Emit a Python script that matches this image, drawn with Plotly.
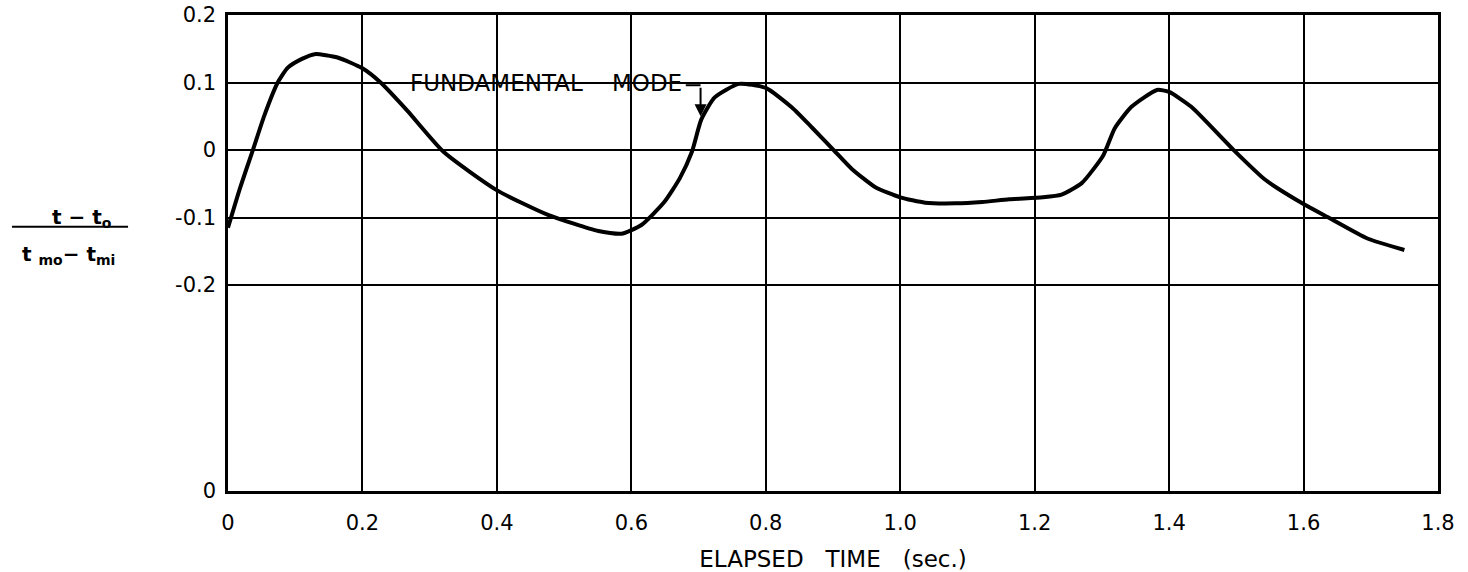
import plotly.graph_objects as go

# Normalised temperature response vs elapsed time
elapsed_time = [0.0, 0.018, 0.037, 0.054, 0.074, 0.089, 0.11, 0.129, 0.163, 0.2,
                0.227, 0.267, 0.321, 0.399, 0.476, 0.551, 0.585, 0.615, 0.649, 0.672,
                0.690, 0.704, 0.724, 0.760, 0.8, 0.839, 0.869, 0.901, 0.928, 0.963,
                1.0, 1.037, 1.082, 1.122, 1.162, 1.212, 1.240, 1.27, 1.302, 1.319,
                1.344, 1.382, 1.4, 1.433, 1.493, 1.543, 1.6, 1.639, 1.695, 1.750]
ratio = [-0.115, -0.056, 0.0, 0.051, 0.1, 0.122, 0.135, 0.142, 0.137, 0.121,
         0.1, 0.058, -0.003, -0.059, -0.096, -0.120, -0.124, -0.111, -0.077, -0.042,
         -0.003, 0.045, 0.078, 0.098, 0.092, 0.063, 0.033, 0.0, -0.028, -0.055,
         -0.070, -0.078, -0.079, -0.077, -0.073, -0.070, -0.066, -0.049, -0.008, 0.032,
         0.064, 0.089, 0.086, 0.064, 0.003, -0.044, -0.080, -0.101, -0.131, -0.148]

x_ticks = [0, 0.2, 0.4, 0.6, 0.8, 1.0, 1.2, 1.4, 1.6, 1.8]
x_tick_text = ["0", "0.2", "0.4", "0.6", "0.8", "1.0", "1.2", "1.4", "1.6", "1.8"]
y_bottom = -0.505
y_ticks = [y_bottom, -0.2, -0.1, 0, 0.1, 0.2]
y_tick_text = ["0", "-0.2", "-0.1", "0", "0.1", "0.2"]

FONT = "DejaVu Sans"

fig = go.Figure()
fig.add_trace(go.Scatter(
    x=elapsed_time, y=ratio, mode="lines",
    line=dict(color="black", width=4, shape="spline", smoothing=0.55),
    showlegend=False, hoverinfo="skip",
))

# label and hooked arrow for the fundamental mode
fig.add_annotation(
    x=0.679, y=0.099, xref="x", yref="y", xanchor="right", yanchor="middle",
    text="FUNDAMENTAL\u00a0\u00a0\u00a0 MODE", showarrow=False,
    font=dict(family=FONT, size=23, color="black"),
)
fig.add_shape(type="line", xref="x", yref="y", x0=0.681, x1=0.703, y0=0.096, y1=0.096,
              line=dict(color="black", width=2))
fig.add_annotation(
    x=0.703, y=0.050, xref="x", yref="y", ax=0, ay=-30, text="",
    showarrow=True, arrowhead=2, arrowsize=1.2, arrowwidth=2, arrowcolor="black",
)

# fraction used as the y-axis title
fig.add_annotation(
    xref="paper", yref="paper", x=-0.121, y=0.574, xanchor="center", yanchor="middle",
    text="<b>t − t<sub>o</sub></b>", showarrow=False,
    font=dict(family=FONT, size=20, color="black"),
)
fig.add_shape(type="line", xref="paper", yref="paper", x0=-0.1785, x1=-0.0826,
              y0=0.555, y1=0.555, line=dict(color="black", width=2))
fig.add_annotation(
    xref="paper", yref="paper", x=-0.132, y=0.495, xanchor="center", yanchor="middle",
    text="<b>t <sub>mo</sub>− t<sub>mi</sub></b>", showarrow=False,
    font=dict(family=FONT, size=20, color="black"),
)

fig.update_xaxes(
    range=[0, 1.8], tickvals=x_ticks, ticktext=x_tick_text,
    showgrid=True, gridcolor="black", gridwidth=1.5,
    showline=True, linecolor="black", linewidth=2.5, mirror=True,
    zeroline=False, ticks="", ticklabelstandoff=11, automargin=False,
    tickfont=dict(family=FONT, size=21, color="black"),
    title=dict(text="ELAPSED\u00a0\u00a0 TIME\u00a0\u00a0 (sec.)", standoff=21,
               font=dict(family=FONT, size=23, color="black")),
)
fig.update_yaxes(
    range=[y_bottom, 0.2], tickvals=y_ticks, ticktext=y_tick_text,
    showgrid=True, gridcolor="black", gridwidth=1.5,
    showline=True, linecolor="black", linewidth=2.5, mirror=True,
    zeroline=False, ticks="", ticklabelstandoff=5, automargin=False,
    tickfont=dict(family=FONT, size=21, color="black"),
)

fig.update_layout(
    width=1468, height=572,
    margin=dict(l=228, r=30, t=15, b=81),
    paper_bgcolor="white", plot_bgcolor="white",
)

fig.write_html("out.html")
